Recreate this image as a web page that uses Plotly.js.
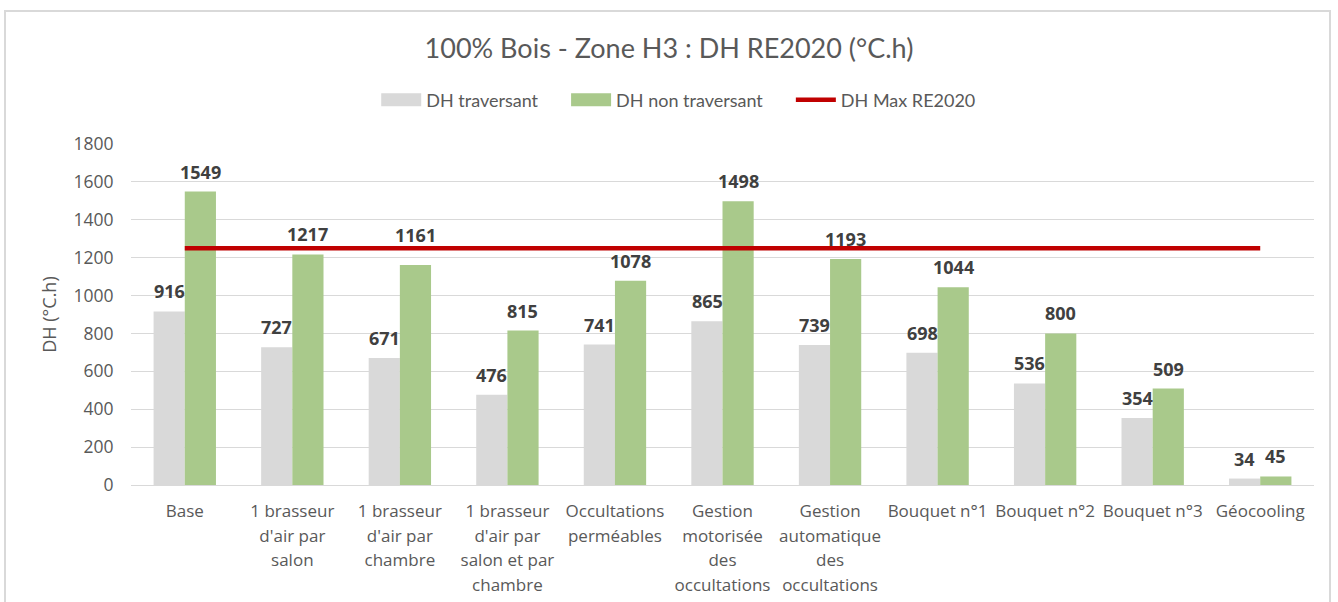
<!DOCTYPE html>
<html>
<head>
<meta charset="utf-8">
<script src="https://cdn.plot.ly/plotly-3.0.1.min.js"></script>
<style>
html,body{margin:0;padding:0;background:#fff;}
#wrap{position:relative;width:1338px;height:602px;overflow:hidden;}
#chart{width:1338px;height:602px;}
#frame{position:absolute;left:4px;top:10px;width:1327px;height:620px;border:2px solid #D9D9D9;pointer-events:none;box-sizing:border-box;}
</style>
</head>
<body>
<div id="wrap"><div id="chart"></div><div id="frame"></div></div>
<script>
const categories = [
  "Base",
  "1 brasseur<br>d'air par<br>salon",
  "1 brasseur<br>d'air par<br>chambre",
  "1 brasseur<br>d'air par<br>salon et par<br>chambre",
  "Occultations<br>perméables",
  "Gestion<br>motorisée<br>des<br>occultations",
  "Gestion<br>automatique<br>des<br>occultations",
  "Bouquet n°1",
  "Bouquet n°2",
  "Bouquet n°3",
  "Géocooling"
];
const dhTraversant = [916, 727, 671, 476, 741, 865, 739, 698, 536, 354, 34];
const dhNonTraversant = [1549, 1217, 1161, 815, 1078, 1498, 1193, 1044, 800, 509, 45];
const dhMax = [1250, 1250, 1250, 1250, 1250, 1250, 1250, 1250, 1250, 1250, 1250];
const yTicks = [0, 200, 400, 600, 800, 1000, 1200, 1400, 1600, 1800];
const seriesNames = ['DH traversant', 'DH non traversant', 'DH Max RE2020'];

const gray = '#D9D9D9', green = '#A9C98B', red = '#C00000', txt = '#595959', lbl = '#404040';
const pad = '\u00A0\u00A0\u00A0\u00A0\u00A0';

const traces = [
  {type:'bar', name:seriesNames[0] + pad, x:categories, y:dhTraversant, marker:{color:gray}, hoverinfo:'y'},
  {type:'bar', name:seriesNames[1] + pad, x:categories, y:dhNonTraversant, marker:{color:green}, hoverinfo:'y'},
  {type:'scatter', mode:'lines', name:seriesNames[2], x:categories, y:dhMax, line:{color:red, width:4.5}}
];

const annotations = [];
const barHalf = 15.5;
const lblFont = {family:'Open Sans, sans-serif', size:18, color:lbl, weight:'bold'};
categories.forEach((c, i) => {
  annotations.push({x:c, y:dhTraversant[i], xref:'x', yref:'y', text:String(dhTraversant[i]), showarrow:false,
    xshift:-barHalf, yanchor:'bottom', yshift:6, font:lblFont});
  // label of the 3rd green bar sits above the red line in the original
  const extra = (i === 2) ? 10 : 0;
  annotations.push({x:c, y:dhNonTraversant[i], xref:'x', yref:'y', text:String(dhNonTraversant[i]), showarrow:false,
    xshift:barHalf, yanchor:'bottom', yshift:6 + extra, font:lblFont});
});

const layout = {
  width:1338, height:602,
  margin:{l:131, r:24, t:144, b:117},
  paper_bgcolor:'#fff', plot_bgcolor:'#fff',
  barmode:'group', bargap:0.42, bargroupgap:0,
  title:{text:'100% Bois - Zone H3 : DH RE2020 (°C.h)', x:0.5, xanchor:'center', y:0.92, yanchor:'middle', yref:'container',
    font:{family:'Lato, sans-serif', size:27, color:txt}},
  legend:{orientation:'h', x:0.463, xanchor:'center', y:1.129, yanchor:'middle',
    font:{family:'Lato, sans-serif', size:18, color:txt}, itemwidth:40, traceorder:'normal'},
  xaxis:{type:'category', tickfont:{family:'Open Sans, sans-serif', size:17, color:txt},
    showgrid:false, showline:true, linecolor:gray, linewidth:1, ticks:'outside', ticklen:11, tickcolor:'rgba(0,0,0,0)',
    tickangle:0, fixedrange:true},
  yaxis:{range:[0,1800], tickvals:yTicks, ticktext:yTicks.map(String), gridcolor:gray, gridwidth:1, zeroline:false,
    tickfont:{family:'Open Sans, sans-serif', size:17.5, color:txt}, ticks:'outside', ticklen:13, tickcolor:'rgba(0,0,0,0)',
    title:{text:'DH (°C.h)', font:{family:'Open Sans, sans-serif', size:18, color:txt}, standoff:12}},
  annotations:annotations,
  showlegend:true
};

Plotly.newPlot('chart', traces, layout, {displayModeBar:false, staticPlot:true}).then(function(gd){
  // widen bar legend swatches to match the line swatch span
  const items = gd.querySelectorAll('.legend .traces');
  let lineBox = null;
  items.forEach(function(it){
    const lp = it.querySelector('.legendpoints path.js-line, .legendlines path');
    if (lp) { lineBox = lp.getBBox(); }
  });
  if (lineBox) {
    items.forEach(function(it){
      it.querySelectorAll('.legendpoints path').forEach(function(p){
        if (p.classList.contains('js-line')) return;
        p.removeAttribute('transform');
        const x0 = lineBox.x, w = lineBox.width;
        p.setAttribute('d', 'M' + x0 + ',-6.5h' + w + 'v13h-' + w + 'Z');
      });
    });
  }
  // looser line spacing for multi-line category labels
  gd.querySelectorAll('.xtick text tspan.line').forEach(function(t){
    const dy = t.getAttribute('dy');
    if (dy) {
      const v = parseFloat(dy);
      if (v > 0) t.setAttribute('dy', (v / 1.3 * 1.44).toFixed(3) + 'em');
    }
  });
});
</script>
</body>
</html>
